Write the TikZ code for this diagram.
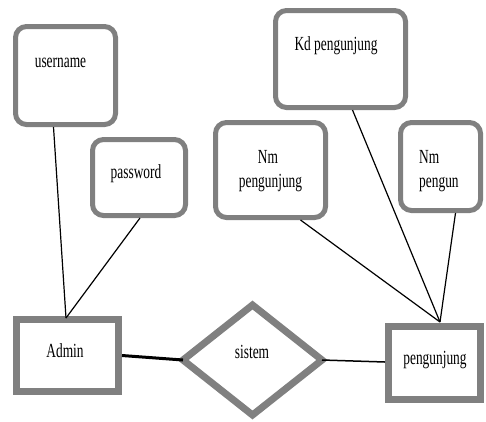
\documentclass[tikz,border=0pt]{standalone}
\usepackage{fontspec}
\setmainfont{Liberation Serif}
\newcommand{\sq}[1]{\scalebox{0.67}[1]{#1}}
\begin{document}
\begin{tikzpicture}[x=1pt,y=-1pt,
  attrbox/.style={draw=boxgray, line width=5pt, rounded corners=11pt, fill=white, minimum width=#1, inner sep=0pt},
  entbox/.style={draw=boxgray, line width=7pt, fill=white, inner sep=0pt},
  lbl/.style={anchor=base, inner sep=0pt, font=\fontsize{20}{22}\selectfont},
  conn/.style={line width=1.2pt, black},
]
\definecolor{boxgray}{RGB}{128,128,128}
\useasboundingbox (0,0) rectangle (486,421);
% attribute boxes
\node[attrbox=100pt, minimum height=98pt] (user) at (65.5,75.5) {};
\node[attrbox=93pt, minimum height=76pt] (pass) at (139,177.5) {};
\node[attrbox=130pt, minimum height=97pt] (kd) at (340.5,59) {};
\node[attrbox=110pt, minimum height=95pt] (nm) at (270.5,170) {};
\node[attrbox=80pt, minimum height=88pt] (nm2) at (440.5,166.5) {};
% entities
\node[entbox, minimum width=102pt, minimum height=72pt] (admin) at (67.5,355.5) {};
\node[entbox, minimum width=92pt, minimum height=73pt] (peng) at (434.5,363) {};
% relationship diamond
\coordinate (dl) at (183,360);
\coordinate (dr) at (322,360);
\coordinate (dt) at (252.5,305);
\coordinate (db) at (252.5,415);
\draw[draw=boxgray, line width=7pt, line join=miter, fill=white] (dl) -- (dt) -- (dr) -- (db) -- cycle;
% join point
\coordinate (pj) at (440,322);
\coordinate (aj) at (66,318);
% connectors
\draw[conn] ([xshift=-12pt]user.south) -- (aj);
\draw[conn] ([xshift=1pt]pass.south) -- (aj);
\draw[line width=3pt] (admin.east) -- (dl);
\draw[line width=1.5pt] (dr) -- ([yshift=1pt]peng.west);
\draw[conn] ([xshift=12pt]kd.south) -- (pj);
\draw[conn] ([xshift=30pt]nm.south) -- (pj);
\draw[conn] ([xshift=15pt]nm2.south) -- (pj);
% labels
\node[lbl] (tuser) at (60.5,67) {\sq{username}};
\node[lbl] (tpass) at (136,178) {\sq{password}};
\node[lbl] (tkd) at (336,50) {\sq{Kd pengunjung}};
\node[lbl] (tnm1) at (268,163) {\sq{Nm}};
\node[lbl] (tnm2) at (270.5,187) {\sq{pengunjung}};
\node[lbl, anchor=base west] (tnp1) at (419,163) {\sq{Nm}};
\node[lbl, anchor=base west] (tnp2) at (419,187) {\sq{pengun}};
\node[lbl] (tadmin) at (65,357) {\sq{Admin}};
\node[lbl] (tsis) at (252,358) {\sq{sistem}};
\node[lbl] (tpeng) at (435,364) {\sq{pengunjung}};
\end{tikzpicture}
\end{document}
